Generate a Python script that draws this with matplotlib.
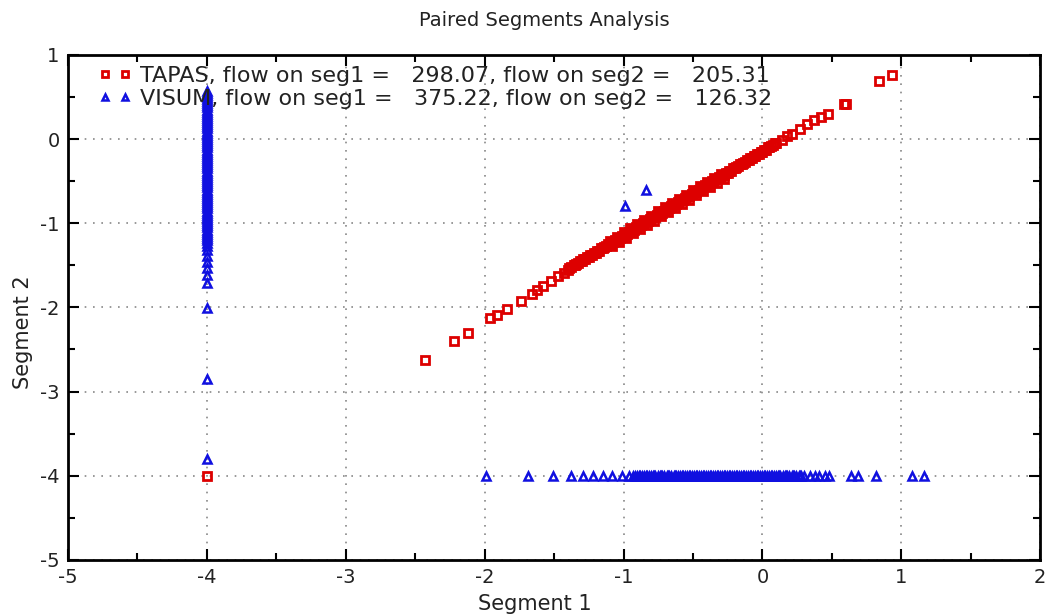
import numpy as np
from matplotlib import pyplot as plt
from matplotlib.ticker import MultipleLocator

# value used when a segment carries no flow
floor_value = -4.0

# TAPAS: (segment 1, segment 2) pairs
tapas_x = [-4.00, -2.43, -2.22, -2.12, -1.96, -1.91, -1.84, -1.74, -1.66, -1.62,
           -1.58, -1.52, -1.47, -1.43,
           -1.400, -1.375, -1.350, -1.325, -1.300, -1.275, -1.250, -1.225, -1.200, -1.175,
           -1.150, -1.125, -1.100, -1.075, -1.050, -1.025, -1.000, -0.975, -0.950, -0.925,
           -0.900, -0.875, -0.850, -0.825, -0.800, -0.775, -0.750, -0.725, -0.700, -0.675,
           -0.650, -0.625, -0.600, -0.575, -0.550, -0.525, -0.500, -0.475, -0.450, -0.425,
           -0.400, -0.375, -0.350, -0.325, -0.300, -0.275, -0.250, -0.225, -0.200, -0.175,
           -0.150, -0.125, -0.100, -0.075, -0.050, -0.025, 0.000, 0.025, 0.050, 0.075,
           0.100, 0.14, 0.18, 0.21, 0.27, 0.32, 0.37, 0.42, 0.47, 0.59,
           0.60, 0.84, 0.93,
           -1.10, -1.05, -1.00, -0.95, -0.90, -0.85, -0.80, -0.75, -0.70, -0.65,
           -0.60, -0.55, -0.50, -0.45, -0.40, -0.35, -0.30,
           -1.08, -1.03, -0.98, -0.93, -0.88, -0.83, -0.78, -0.73, -0.68, -0.63,
           -0.58, -0.53, -0.48, -0.43, -0.38, -0.33, -0.28,
           -1.39, -1.36, -1.34, -1.31, -1.29, -1.26, -1.24, -1.21, -1.19, -1.16,
           -1.14, -1.11, -1.09, -1.06, -1.04, -1.01, -0.99, -0.96, -0.94, -0.91,
           -0.89, -0.86, -0.84, -0.81, -0.79, -0.76, -0.74, -0.71, -0.69, -0.66,
           -0.64, -0.61, -0.59, -0.56, -0.54, -0.51, -0.49, -0.46, -0.44, -0.41,
           -0.39, -0.36, -0.34, -0.31, -0.29, -0.26, -0.24, -0.21, -0.19, -0.16,
           -0.14, -0.11, -0.09, -0.06, -0.04, -0.01, 0.01, 0.04, 0.06, 0.09]
tapas_y = [-4.00, -2.63, -2.40, -2.31, -2.13, -2.09, -2.02, -1.92, -1.84, -1.79,
           -1.75, -1.69, -1.63, -1.59,
           -1.550, -1.525, -1.500, -1.475, -1.450, -1.425, -1.400, -1.375, -1.350, -1.325,
           -1.300, -1.275, -1.250, -1.225, -1.200, -1.175, -1.150, -1.125, -1.100, -1.075,
           -1.050, -1.025, -1.000, -0.975, -0.950, -0.925, -0.900, -0.875, -0.850, -0.825,
           -0.800, -0.775, -0.750, -0.725, -0.700, -0.675, -0.650, -0.625, -0.600, -0.575,
           -0.550, -0.525, -0.500, -0.475, -0.450, -0.425, -0.400, -0.375, -0.350, -0.325,
           -0.300, -0.275, -0.250, -0.225, -0.200, -0.175, -0.150, -0.125, -0.100, -0.075,
           -0.050, -0.01, 0.03, 0.06, 0.12, 0.18, 0.23, 0.26, 0.30, 0.42,
           0.42, 0.69, 0.76,
           -1.21, -1.16, -1.11, -1.06, -1.01, -0.96, -0.91, -0.86, -0.81, -0.76,
           -0.71, -0.66, -0.61, -0.56, -0.51, -0.46, -0.41,
           -1.27, -1.22, -1.17, -1.12, -1.07, -1.02, -0.97, -0.92, -0.87, -0.82,
           -0.77, -0.72, -0.67, -0.62, -0.57, -0.52, -0.47,
           -1.53, -1.50, -1.48, -1.45, -1.43, -1.40, -1.38, -1.35, -1.33, -1.30,
           -1.28, -1.25, -1.23, -1.20, -1.18, -1.15, -1.13, -1.10, -1.08, -1.05,
           -1.03, -1.00, -0.98, -0.95, -0.93, -0.90, -0.88, -0.85, -0.83, -0.80,
           -0.78, -0.75, -0.73, -0.70, -0.68, -0.65, -0.63, -0.60, -0.58, -0.55,
           -0.53, -0.50, -0.48, -0.45, -0.43, -0.40, -0.38, -0.35, -0.33, -0.30,
           -0.28, -0.25, -0.23, -0.20, -0.18, -0.15, -0.13, -0.10, -0.08, -0.05]

# VISUM: segment 2 values where segment 1 sits at the floor
visum_col_y = [0.575, 0.55, 0.525, 0.50, 0.475, 0.45, 0.425, 0.40, 0.375, 0.35,
               0.325, 0.30, 0.275, 0.25, 0.225, 0.20, 0.175, 0.15, 0.125, 0.10,
               0.075, 0.05, 0.025, 0.00, -0.025, -0.05, -0.075, -0.10, -0.125, -0.15,
               -0.175, -0.20, -0.225, -0.25, -0.275, -0.30, -0.325, -0.35, -0.375, -0.40,
               -0.425, -0.45, -0.475, -0.50, -0.525, -0.55, -0.575, -0.60, -0.625, -0.65,
               -0.675, -0.70, -0.725, -0.75, -0.775, -0.80, -0.825, -0.85, -0.875, -0.90,
               -0.925, -0.95, -0.975, -1.00, -1.025, -1.05, -1.075, -1.10, -1.125, -1.15,
               -1.175, -1.20, -1.23, -1.27, -1.32, -1.39, -1.46, -1.53, -1.62, -1.71,
               -2.01, -2.85, -3.80]
# VISUM: segment 1 values where segment 2 sits at the floor
visum_row_x = [-1.99, -1.69, -1.51, -1.38, -1.29, -1.22, -1.15, -1.08, -1.01, -0.96,
               -0.93, -0.905, -0.88, -0.855, -0.83, -0.805, -0.78, -0.755, -0.73, -0.705,
               -0.68, -0.655, -0.63, -0.605, -0.58, -0.555, -0.53, -0.505, -0.48, -0.455,
               -0.43, -0.405, -0.38, -0.355, -0.33, -0.305, -0.28, -0.255, -0.23, -0.205,
               -0.18, -0.155, -0.13, -0.105, -0.08, -0.055, -0.03, -0.005, 0.02, 0.045,
               0.07, 0.095, 0.12, 0.145, 0.17, 0.195, 0.22, 0.245, 0.27, 0.30,
               0.34, 0.38, 0.41, 0.45, 0.48, 0.64, 0.69, 0.82, 1.08, 1.16,
               -0.92, -0.89, -0.87, -0.84, -0.82, -0.79, -0.77, -0.74, -0.72, -0.69,
               -0.67, -0.64, -0.62, -0.59, -0.57, -0.54, -0.52, -0.49, -0.47, -0.44,
               -0.42, -0.39, -0.37, -0.34, -0.32, -0.29, -0.27, -0.24, -0.22, -0.19,
               -0.17, -0.14, -0.12, -0.09, -0.07, -0.04, -0.02, 0.01, 0.03, 0.06,
               0.08, 0.11, 0.13, 0.16, 0.18, 0.21, 0.23, 0.26, 0.28]
# VISUM: remaining pairs
visum_other_x = [-0.99, -0.84]
visum_other_y = [-0.80, -0.61]

tapas_label = "TAPAS, flow on seg1 =   298.07, flow on seg2 =   205.31"
visum_label = "VISUM, flow on seg1 =   375.22, flow on seg2 =   126.32"

plt.rcParams['font.family'] = ['DejaVu Sans']
plt.rcParams['axes.unicode_minus'] = False

visum_x = np.concatenate([np.full(len(visum_col_y), floor_value), visum_row_x, visum_other_x])
visum_y = np.concatenate([visum_col_y, np.full(len(visum_row_x), floor_value), visum_other_y])

fig = plt.figure(figsize=(10.51, 6.16), dpi=100)
ax = fig.add_axes([0.0647, 0.091, 0.925, 0.820])

ax.plot(tapas_x, tapas_y, linestyle='none', marker='s', markersize=5.5,
        markerfacecolor='none', markeredgecolor='#dd0000', markeredgewidth=2.0,
        label=tapas_label, zorder=3)
ax.plot(visum_x, visum_y, linestyle='none', marker='^', markersize=6,
        markerfacecolor='none', markeredgecolor='#1010e0', markeredgewidth=1.8,
        label=visum_label, zorder=3)

ax.set_xlim(-5, 2)
ax.set_ylim(-5, 1)
ax.xaxis.set_major_locator(MultipleLocator(1))
ax.yaxis.set_major_locator(MultipleLocator(1))
ax.xaxis.set_minor_locator(MultipleLocator(0.5))
ax.yaxis.set_minor_locator(MultipleLocator(0.5))
ax.tick_params(which='both', direction='in', top=True, right=True,
               width=1.5, colors='black', labelcolor='#222222')
ax.tick_params(which='major', length=8, labelsize=14, pad=6)
ax.tick_params(which='minor', length=5)
for s in ax.spines.values():
    s.set_linewidth(2)

ax.grid(True, which='major', linestyle=(0, (1, 4)), color='#888888', linewidth=1.2)

ax.set_title("Paired Segments Analysis", fontsize=14, color='#222222', x=0.49, y=1.04)
ax.set_xlabel("Segment 1", fontsize=15, color='#222222')
ax.set_ylabel("Segment 2", fontsize=15, color='#222222')
ax.xaxis.set_label_coords(0.48, -0.067)
ax.yaxis.set_label_coords(-0.036, 0.45)

leg = ax.legend(loc='upper left', frameon=False, numpoints=2, fontsize=16,
                markerscale=0.8, handlelength=1.5, handletextpad=0.4,
                labelspacing=0.12, borderaxespad=0.0, bbox_to_anchor=(0.022, 0.995))
for t in leg.get_texts():
    t.set_color('#222222')

fig.savefig("out.png", dpi=100)
